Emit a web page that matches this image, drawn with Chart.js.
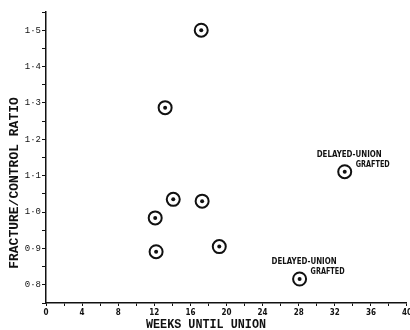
<!DOCTYPE html>
<html>
<head>
<meta charset="utf-8">
<script src="https://cdn.jsdelivr.net/npm/chart.js@4"></script>
<style>
  html, body { margin: 0; padding: 0; background: #fff; overflow: hidden; }
  /* a little wider than the window so the last x label can hang off the edge */
  #wrap { width: 414px; height: 330px; }
</style>
</head>
<body>
<div id="wrap"><canvas id="chart"></canvas></div>
<script>
// values
const weeks = [17.2, 13.2, 33.1, 14.1, 17.3, 12.1, 12.2, 19.2, 28.1];
const ratio = [1.50, 1.287, 1.111, 1.035, 1.030, 0.984, 0.891, 0.905, 0.816];

const xTickLabels = ['0', '4', '8', '12', '16', '20', '24', '28', '32', '36', '40'];
const yTickLabels = ['0·8', '0·9', '1·0', '1·1', '1·2', '1·3', '1·4', '1·5'];

const xTitle = 'WEEKS UNTIL UNION';
const yTitle = 'FRACTURE/CONTROL RATIO';

// point index -> note lines
const notePoints = [2, 8];
const noteLines = ['DELAYED-UNION', 'GRAFTED'];

const points = weeks.map((w, i) => ({ x: w, y: ratio[i] }));

// titles + notes drawn on top of the plot
const notesPlugin = {
  id: 'notes',
  afterDraw(chart) {
    const { ctx, scales: { x, y } } = chart;
    ctx.save();
    ctx.fillStyle = '#111';

    // notes beside the two delayed-union points
    ctx.font = 'bold 9px "DejaVu Sans Condensed", "DejaVu Sans", sans-serif';
    ctx.textBaseline = 'middle';
    ctx.textAlign = 'left';
    notePoints.forEach(i => {
      const px = x.getPixelForValue(weeks[i]);
      const py = y.getPixelForValue(ratio[i]);
      ctx.fillText(noteLines[0], px - 28, py - 17, 65);
      ctx.fillText(noteLines[1], px + 11, py - 7, 34);
    });

    // axis titles
    ctx.font = 'bold 13px "Liberation Mono", monospace';
    ctx.textAlign = 'center';
    ctx.textBaseline = 'top';
    ctx.fillText(xTitle, 206, 318, 120);

    ctx.translate(15, 183);
    ctx.rotate(-Math.PI / 2);
    ctx.textBaseline = 'middle';
    ctx.fillText(yTitle, 0, 0);
    ctx.restore();
  }
};

new Chart(document.getElementById('chart'), {
  type: 'scatter',
  data: {
    datasets: [
      {
        data: points,
        pointRadius: 6.5,
        pointBorderWidth: 2,
        pointBorderColor: '#111',
        pointBackgroundColor: 'rgba(255,255,255,0)',
        pointHoverRadius: 6.5
      },
      {
        data: points,
        pointRadius: 2,
        pointBorderWidth: 0,
        pointBackgroundColor: '#111',
        pointHoverRadius: 2
      }
    ]
  },
  options: {
    responsive: true,
    maintainAspectRatio: false,
    animation: false,
    layout: { autoPadding: false, padding: { top: 12, right: 3, left: 0, bottom: 0 } },
    plugins: {
      legend: { display: false },
      tooltip: { enabled: false }
    },
    scales: {
      x: {
        type: 'linear',
        min: 0,
        max: 40,
        afterFit: s => { s.height = 27; },
        border: { display: true, color: '#111', width: 1.5 },
        grid: { drawOnChartArea: false, drawTicks: true, tickLength: 3, color: '#111' },
        ticks: {
          stepSize: 2,
          autoSkip: false,
          maxRotation: 0,
          padding: 2,
          color: '#111',
          font: { family: '"DejaVu Sans Condensed", "DejaVu Sans", sans-serif', size: 8, weight: 'bold' },
          callback: v => (Math.round(v) % 4 === 0 ? xTickLabels[Math.round(v) / 4] : '')
        }
      },
      y: {
        type: 'linear',
        min: 0.75,
        max: 1.55,
        afterFit: s => { s.width = 46; },
        border: { display: true, color: '#111', width: 1.5 },
        grid: { drawOnChartArea: false, drawTicks: true, tickLength: 4, color: '#111' },
        ticks: {
          stepSize: 0.05,
          autoSkip: false,
          padding: 1,
          color: '#111',
          font: { family: '"Liberation Mono", monospace', size: 9 },
          callback: v => {
            const k = Math.round(v * 100);
            return k % 10 === 0 ? yTickLabels[(k - 80) / 10] : '';
          }
        }
      }
    }
  },
  plugins: [notesPlugin]
});
</script>
</body>
</html>
